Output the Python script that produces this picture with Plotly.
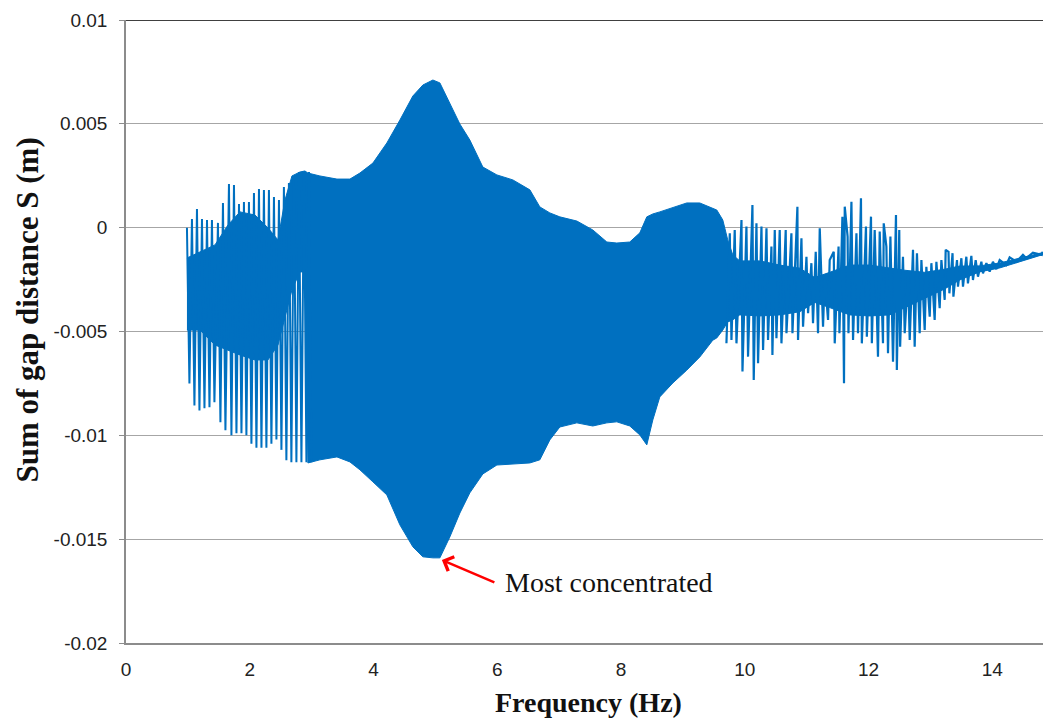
import plotly.graph_objects as go

# ---------------- data (S values in mm, converted to m below) ----------------
# Left region: individual oscillation peaks / troughs (1 - 3 Hz)
left_peak_f = [0.985, 1.066, 1.147, 1.228, 1.309, 1.389, 1.486, 1.567, 1.664, 1.745,
               1.826, 1.906, 1.987, 2.068, 2.149, 2.229, 2.310, 2.391, 2.472, 2.552,
               2.633, 2.714, 2.795, 2.876, 2.957]
left_peak_s = [0.00, 0.42, 0.90, 0.42, 0.37, 0.37, 0.23, 1.19, 2.10, 2.06,
               1.14, 1.24, 1.24, 1.67, 1.86, 1.81, 1.81, 1.48, 1.33, 1.96,
               2.15, 2.39, 2.68, 2.70, 2.68]
left_trough_f = [1.025, 1.106, 1.187, 1.268, 1.349, 1.429, 1.526, 1.607, 1.704, 1.785,
                 1.866, 1.946, 2.027, 2.108, 2.189, 2.269, 2.350, 2.431, 2.512, 2.592,
                 2.673, 2.754, 2.835, 2.916, 2.997]
left_trough_s = [-7.50, -8.56, -8.80, -8.70, -8.65, -8.41, -9.37, -9.76, -10.0, -9.90,
                 -9.90, -10.0, -10.4, -10.6, -10.6, -10.6, -10.4, -10.2, -10.7, -11.2,
                 -11.3, -11.3, -11.3, -11.3, -11.3]

# Dense oscillation band: upper / lower envelopes
band_f = [0.985, 1.195, 1.438, 1.648, 1.842, 2.084, 2.294, 2.456, 2.569, 2.682,
          2.811, 2.892, 2.940, 3.134, 3.409, 3.619, 3.780, 3.990, 4.216, 4.426,
          4.636, 4.798, 4.960, 5.073, 5.234, 5.396, 5.557, 5.767, 5.994, 6.252,
          6.527, 6.688, 6.850, 7.011, 7.286, 7.544, 7.771, 7.932, 8.142, 8.304,
          8.417, 8.514, 8.627, 8.837, 9.063, 9.273, 9.483, 9.548, 9.645, 9.725,
          9.806, 9.919, 10.242, 10.565, 10.889, 11.131, 11.373, 11.696, 12.019, 12.342,
          12.585, 12.908, 13.231, 13.473, 13.796, 14.120, 14.814]
band_upper = [-1.46, -1.17, -0.83, 0.13, 0.76, 0.61, -0.01, -0.59, 1.33, 2.49,
              2.68, 2.73, 2.63, 2.49, 2.34, 2.34, 2.63, 3.11, 4.08, 5.18,
              6.34, 6.87, 7.11, 6.97, 5.96, 4.99, 4.22, 2.92, 2.54, 2.30,
              1.82, 1.00, 0.71, 0.52, 0.32, -0.11, -0.69, -0.74, -0.69, -0.25,
              0.52, 0.66, 0.76, 0.95, 1.19, 1.19, 0.95, 0.85, 0.37, -0.59,
              -1.31, -1.60, -1.60, -1.80, -1.95, -2.40, -2.15, -1.80, -1.80, -1.95,
              -2.05, -2.15, -2.00, -1.85, -1.84, -1.70, -1.20]
band_lower = [-4.93, -4.93, -5.65, -5.89, -6.13, -6.37, -6.37, -5.65, -4.35, -3.00,
              -2.13, -2.13, -11.33, -11.18, -11.04, -11.28, -11.66, -12.24, -12.87, -14.31,
              -15.37, -15.85, -15.90, -15.90, -14.89, -13.74, -12.77, -11.86, -11.43, -11.38,
              -11.33, -11.18, -10.22, -9.60, -9.40, -9.55, -9.40, -9.35, -9.55, -9.98,
              -10.46, -9.26, -8.15, -7.48, -6.86, -6.23, -5.42, -5.31, -4.93, -4.54,
              -4.44, -4.20, -4.25, -4.20, -4.05, -3.60, -3.85, -4.20, -4.25, -4.20,
              -3.85, -3.40, -2.95, -2.52, -2.13, -1.94, -1.30]

# Right region: individual oscillation peaks / troughs (9.7 - 14.8 Hz)
right_peak_f = [9.758, 9.838, 9.947, 10.027, 10.124, 10.189, 10.270, 10.351, 10.431, 10.485,
                10.565, 10.662, 10.754, 10.851, 10.916, 10.997, 11.077, 11.147, 11.212, 11.292,
                11.373, 11.438, 11.516, 11.578, 11.616, 11.662, 11.724, 11.805, 11.878, 11.959,
                12.040, 12.100, 12.181, 12.246, 12.289, 12.354, 12.444, 12.497, 12.557, 12.638,
                12.719, 12.783, 12.855, 12.935, 13.016, 13.097, 13.178, 13.247, 13.293, 13.358,
                13.430, 13.501, 13.581, 13.662, 13.732, 13.824, 13.905, 14.011, 14.120, 14.281,
                14.496, 14.657, 14.814]
right_peak_s = [-0.27, -0.11, 0.37, 0.05, 1.09, 0.21, 0.05, -0.03, -0.91, -0.11,
                -0.11, -0.11, -0.27, 1.01, -0.51, -1.40, -1.71, -1.16, -0.03, -2.36,
                -1.56, -1.16, -0.91, 0.53, 1.01, -0.43, 1.25, -0.27, 1.42, 0.05,
                0.53, -0.11, -0.19, 0.21, -0.91, -0.43, 0.61, -0.11, -1.40, -2.20,
                -1.07, -1.23, -1.56, -1.88, -1.71, -1.64, -1.56, -1.07, -1.16, -1.23,
                -1.56, -1.47, -1.40, -1.36, -1.56, -1.64, -1.71, -1.64, -1.56, -1.43,
                -1.31, -1.20, -1.16]
right_trough_f = [9.704, 9.785, 9.866, 9.963, 10.053, 10.145, 10.215, 10.296, 10.376, 10.447,
                  10.512, 10.593, 10.674, 10.771, 10.861, 10.942, 11.023, 11.103, 11.184, 11.265,
                  11.346, 11.454, 11.530, 11.604, 11.676, 11.750, 11.830, 11.892, 11.973, 12.054,
                  12.153, 12.234, 12.315, 12.396, 12.458, 12.511, 12.585, 12.666, 12.746, 12.827,
                  12.908, 12.989, 13.069, 13.150, 13.231, 13.307, 13.372, 13.446, 13.527, 13.607,
                  13.688, 13.769, 13.850, 13.958, 14.066, 14.228, 14.390, 14.551, 14.800]
right_trough_s = [-5.57, -5.41, -5.57, -6.93, -6.21, -7.33, -6.53, -5.89, -5.41, -6.13,
                  -5.32, -5.57, -5.08, -5.08, -5.41, -4.77, -4.12, -4.60, -5.08, -4.77,
                  -4.44, -5.57, -5.08, -7.49, -5.08, -5.41, -5.08, -5.57, -5.25, -5.57,
                  -6.21, -5.57, -6.05, -6.45, -6.85, -5.73, -5.08, -5.41, -5.73, -5.08,
                  -4.93, -4.29, -4.44, -3.88, -3.48, -3.16, -3.32, -2.84, -2.84, -2.68,
                  -2.52, -2.36, -2.20, -2.12, -2.00, -1.80, -1.64, -1.47, -1.31]

x_ticks = [0, 2, 4, 6, 8, 10, 12, 14]
y_ticks = [0.01, 0.005, 0, -0.005, -0.01, -0.015, -0.02]
y_tick_labels = ["0.01", "0.005", "0", "-0.005", "-0.01", "-0.015", "-0.02"]

annot_f, annot_s = 5.105, -0.0160
annot_text = "Most concentrated"

BLUE = "#0070C0"


def mm(v):
    return [x / 1000.0 for x in v]


def merge(f1, s1, f2, s2):
    pts = sorted(list(zip(f1, s1)) + list(zip(f2, s2)))
    return [p[0] for p in pts], [p[1] for p in pts]


fig = go.Figure()

# dense band
fig.add_trace(go.Scatter(
    x=band_f + band_f[::-1],
    y=mm(band_upper) + mm(band_lower)[::-1],
    fill="toself", fillcolor=BLUE, mode="lines",
    line=dict(color=BLUE, width=1), hoverinfo="skip", showlegend=False))

lx, ly = merge(left_peak_f, left_peak_s, left_trough_f, left_trough_s)
fig.add_trace(go.Scatter(x=lx, y=mm(ly), mode="lines",
                         line=dict(color=BLUE, width=2), showlegend=False))

rx, ry = merge(right_peak_f, right_peak_s, right_trough_f, right_trough_s)
fig.add_trace(go.Scatter(x=rx, y=mm(ry), mode="lines",
                         line=dict(color=BLUE, width=2.2), showlegend=False))

# top border line
fig.add_shape(type="line", xref="paper", yref="y", x0=0, x1=1, y0=0.01, y1=0.01,
              line=dict(color="#404040", width=2))

# annotation arrow + text
fig.add_annotation(x=annot_f, y=annot_s, ax=54, ay=23, xref="x", yref="y",
                   text="", showarrow=True, arrowhead=4, arrowsize=1.2,
                   arrowwidth=2.5, arrowcolor="#FF0000")
fig.add_annotation(x=6.10, y=-0.0171, xref="x", yref="y", text=annot_text,
                   showarrow=False, xanchor="left", yanchor="middle",
                   font=dict(family="Liberation Serif", size=28, color="#111111"))

# axis titles
fig.add_annotation(x=0.504, y=-0.096, xref="paper", yref="paper",
                   text="<b>Frequency (Hz)</b>", showarrow=False,
                   xanchor="center", yanchor="middle",
                   font=dict(family="Liberation Serif", size=28, color="#111111"))
fig.add_annotation(x=-0.107, y=0.535, xref="paper", yref="paper",
                   text="<b>Sum of gap distance S (m)</b>", showarrow=False,
                   textangle=-90, xanchor="center", yanchor="middle",
                   font=dict(family="Liberation Serif", size=31, color="#111111"))

fig.update_layout(
    width=1043, height=722,
    margin=dict(l=126, r=0, t=20, b=79),
    plot_bgcolor="white", paper_bgcolor="white",
    showlegend=False,
    xaxis=dict(range=[0, 14.82], tickvals=x_ticks, showgrid=False, zeroline=False,
               showline=True, linecolor="#8c8c8c", linewidth=1.5, ticks="",
               tickfont=dict(family="Liberation Sans", size=19, color="#222222"),
               ticklabelstandoff=8),
    yaxis=dict(range=[-0.02, 0.01], tickvals=y_ticks, ticktext=y_tick_labels,
               showgrid=True, gridcolor="#a6a6a6", gridwidth=1.3, zeroline=False,
               showline=True, linecolor="#8c8c8c", linewidth=1.5,
               ticks="outside", ticklen=5, tickcolor="#8c8c8c",
               tickfont=dict(family="Liberation Sans", size=19, color="#222222"),
               ticklabelstandoff=8),
)

fig.write_html("out.html")
